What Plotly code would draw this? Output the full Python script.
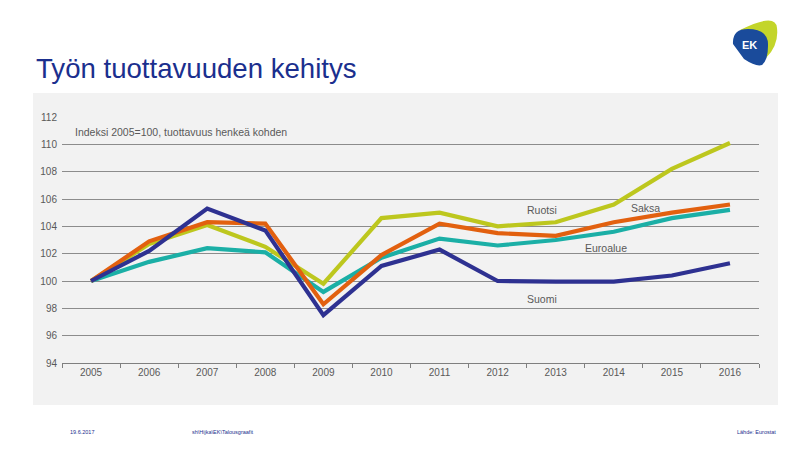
import plotly.graph_objects as go

years = ["2005", "2006", "2007", "2008", "2009", "2010", "2011", "2012", "2013", "2014", "2015", "2016"]
suomi = [100.0, 102.2, 105.3, 103.7, 97.5, 101.1, 102.3, 100.0, 99.95, 99.95, 100.4, 101.3]
saksa = [100.0, 102.9, 104.3, 104.2, 98.3, 101.9, 104.2, 103.5, 103.3, 104.3, 105.0, 105.6]
ruotsi = [100.0, 102.7, 104.1, 102.5, 99.8, 104.6, 105.0, 104.0, 104.3, 105.6, 108.2, 110.1]
euroalue = [100.0, 101.4, 102.4, 102.1, 99.2, 101.7, 103.1, 102.6, 103.0, 103.6, 104.6, 105.2]
y_ticks = [94, 96, 98, 100, 102, 104, 106, 108, 110, 112]

W, H = 807, 454
L, R, T, B = 62, 48, 117, 91
PW, PH = W - L - R, H - T - B


def px(x):
    return (x - L) / PW


def py(y):
    return (H - B - y) / PH


fig = go.Figure()
series = [
    ("Euroalue", euroalue, "#1BAFA6"),
    ("Ruotsi", ruotsi, "#BDC71E"),
    ("Saksa", saksa, "#E2600F"),
    ("Suomi", suomi, "#2E3191"),
]
for name, vals, col in series:
    fig.add_trace(go.Scatter(x=years, y=vals, mode="lines", name=name,
                             line=dict(color=col, width=4.2), hoverinfo="x+y+name"))

shapes = [
    dict(type="rect", xref="paper", yref="paper", x0=px(33), x1=px(778), y0=py(405), y1=py(93),
         fillcolor="#F2F2F2", line=dict(width=0), layer="below"),
    # logo: yellow-green crescent
    dict(type="path", xref="paper", yref="paper", layer="above",
         path="M {},{} Q {},{} {},{} Q {},{} {},{} Q {},{} {},{} Z".format(
             px(740), py(30), px(776), py(12), px(777), py(28),
             px(779), py(45), px(766), py(58), px(760), py(40), px(740), py(30)),
         fillcolor="#C3D52A", line=dict(width=0)),
    # logo: blue body
    dict(type="path", xref="paper", yref="paper", layer="above",
         path="M {},{} Q {},{} {},{} Q {},{} {},{} Q {},{} {},{} Q {},{} {},{} Z".format(
             px(733), py(44), px(732), py(29), px(748), py(29),
             px(769), py(29), px(768), py(46), px(768), py(60), px(762), py(65),
             px(756), py(67), px(744), py(59), px(733), py(53), px(733), py(44)),
         fillcolor="#1A4B9B", line=dict(width=0)),
]

lab_font = dict(family="Liberation Sans", size=10.5, color="#595959")
foot_font = dict(family="Liberation Sans", size=5.5, color="#1B2F8E")
annotations = [
    dict(text="Työn tuottavuuden kehitys", x=px(34), y=py(68), xref="paper", yref="paper",
         xanchor="left", yanchor="middle", showarrow=False,
         font=dict(family="Liberation Sans", size=27.6, color="#1B2F8E")),
    dict(text="<b>EK</b>", x=px(749), y=py(45), xref="paper", yref="paper",
         xanchor="center", yanchor="middle", showarrow=False,
         font=dict(family="Liberation Sans", size=11, color="white")),
    dict(text="Indeksi 2005=100, tuottavuus henkeä kohden", x=px(73), y=py(132), xref="paper", yref="paper",
         xanchor="left", yanchor="middle", showarrow=False, font=lab_font),
    dict(text="Ruotsi", x=px(542), y=py(210), xref="paper", yref="paper",
         xanchor="center", yanchor="middle", showarrow=False, font=lab_font),
    dict(text="Saksa", x=px(645), y=py(208), xref="paper", yref="paper",
         xanchor="center", yanchor="middle", showarrow=False, font=lab_font),
    dict(text="Euroalue", x=px(606), y=py(248), xref="paper", yref="paper",
         xanchor="center", yanchor="middle", showarrow=False, font=lab_font),
    dict(text="Suomi", x=px(542), y=py(299), xref="paper", yref="paper",
         xanchor="center", yanchor="middle", showarrow=False, font=lab_font),
    dict(text="19.6.2017", x=px(68), y=py(432), xref="paper", yref="paper",
         xanchor="left", yanchor="middle", showarrow=False, font=foot_font),
    dict(text="sh\\Hijka\\EK\\Talousgraafit", x=px(190), y=py(432), xref="paper", yref="paper",
         xanchor="left", yanchor="middle", showarrow=False, font=foot_font),
    dict(text="Lähde: Eurostat", x=px(735), y=py(432), xref="paper", yref="paper",
         xanchor="left", yanchor="middle", showarrow=False, font=foot_font),
]

fig.update_layout(
    width=W, height=H,
    margin=dict(l=L, r=R, t=T, b=B, pad=0),
    paper_bgcolor="white", plot_bgcolor="#F2F2F2",
    showlegend=False,
    shapes=shapes, annotations=annotations,
    font=dict(family="Liberation Sans", size=10, color="#595959"),
)
fig.update_xaxes(type="category", categoryorder="array", categoryarray=years,
                 tickson="boundaries", ticks="outside", ticklen=4, tickcolor="#7F7F7F",
                 showline=True, linecolor="#7F7F7F", linewidth=1, showgrid=False,
                 tickfont=dict(size=10, color="#595959"), range=[-0.5, 11.5], zeroline=False)
fig.update_yaxes(range=[94, 112], tickvals=y_ticks, showgrid=True, gridcolor="#8C8C8C",
                 gridwidth=1, zeroline=False, showline=False, ticks="",
                 tickfont=dict(size=10, color="#595959"), ticklabelstandoff=4)

fig.write_html("out.html", config={"displayModeBar": False},
               post_script="document.body.style.margin='0';document.body.style.overflow='hidden';")
